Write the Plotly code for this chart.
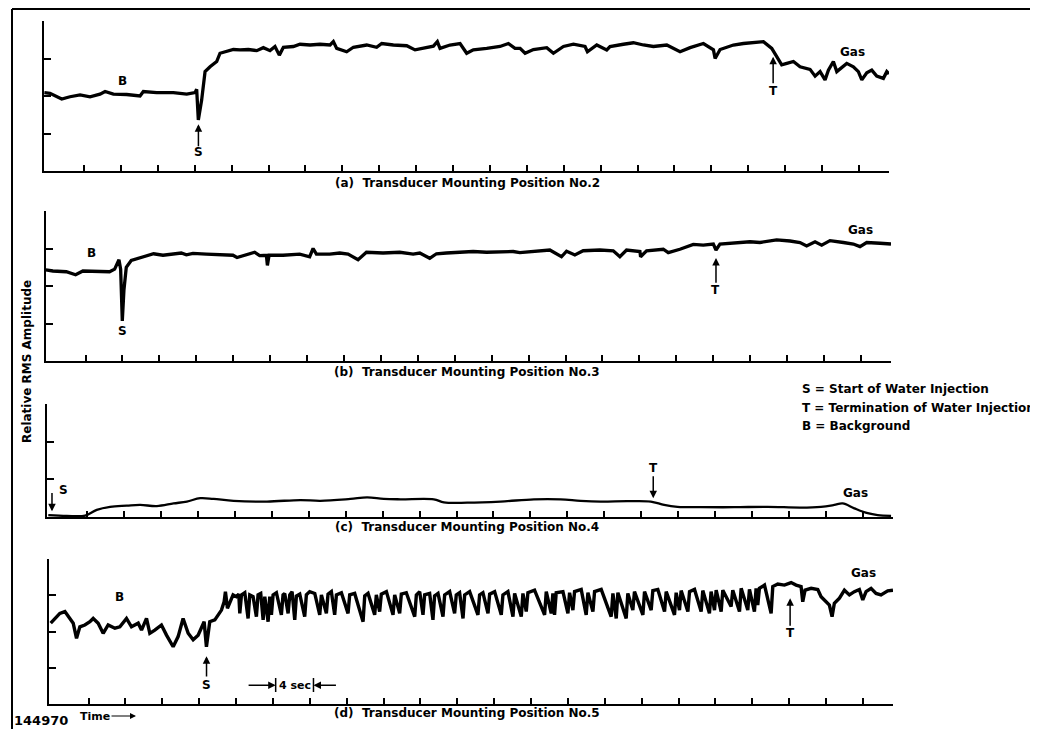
import plotly.graph_objects as go

# ---------------- data (time in s, amplitude in divisions) ----------------
t_a = [-0.3, 0.31, 1.58, 2.48, 3.57, 4.65, 5.73, 6.28, 7.18, 8.62, 10.07, 10.43, 11.88, 13.68, 15.13,
       16.03, 16.21, 16.39, 16.75, 17.12, 17.66, 18.38, 18.74, 19.47, 20.19, 20.91, 21.81, 22.72, 23.44,
       24.16, 24.70, 25.17, 25.61, 26.69, 27.41, 28.50, 29.58, 30.67, 31.03, 31.39, 32.47, 33.20, 34.64,
       35.72, 36.27, 37.53, 38.98, 39.88, 40.78, 41.87, 42.30, 42.59, 43.67, 44.76, 45.48, 46.20, 47.65,
       49.09, 50.00, 50.72, 51.27, 51.81, 52.71, 54.16, 54.88, 55.97, 57.05, 58.31, 58.57, 59.58, 60.66,
       61.02, 62.47, 63.55, 64.64, 65.72, 67.17, 68.61, 69.70, 71.14, 72.23, 72.41, 72.95, 74.39, 75.48,
       76.56, 77.65, 78.55, 79.09, 79.63, 80.18, 80.90, 81.62, 82.70, 83.25, 83.79, 84.33, 84.69, 85.23,
       85.60, 86.68, 87.40, 87.94, 88.31, 88.85, 89.39, 89.93, 90.65, 91.02, 91.26]
v_a = [2.09, 2.07, 1.92, 1.98, 2.03, 1.98, 2.05, 2.12, 2.05, 2.04, 2.00, 2.12, 2.09, 2.09, 2.05,
       2.09, 2.18, 1.36, 1.89, 2.65, 2.78, 2.92, 3.14, 3.18, 3.24, 3.23, 3.24, 3.21, 3.29,
       3.21, 3.32, 3.09, 3.30, 3.32, 3.38, 3.36, 3.38, 3.36, 3.45, 3.27, 3.18, 3.30, 3.36,
       3.30, 3.40, 3.36, 3.34, 3.23, 3.27, 3.33, 3.45, 3.27, 3.36, 3.40, 3.14, 3.23, 3.27,
       3.32, 3.40, 3.27, 3.27, 3.14, 3.24, 3.29, 3.14, 3.32, 3.38, 3.32, 3.18, 3.36, 3.23,
       3.32, 3.38, 3.42, 3.36, 3.32, 3.36, 3.18, 3.29, 3.40, 3.23, 3.00, 3.24, 3.36, 3.40,
       3.42, 3.45, 3.27, 3.05, 2.83, 2.87, 2.92, 2.78, 2.71, 2.53, 2.65, 2.43, 2.69, 2.92,
       2.65, 2.87, 2.78, 2.65, 2.43, 2.62, 2.69, 2.53, 2.47, 2.65, 2.59]

t_b = [-0.3, 0.46, 1.91, 2.92, 3.71, 5.16, 6.60, 7.15, 7.62, 7.80, 7.98, 8.16, 8.41, 8.95, 9.86,
       11.37, 12.39, 13.47, 14.37, 14.92, 15.64, 17.08, 18.53, 19.97, 20.41, 21.42, 22.32, 22.86,
       23.59, 23.70, 23.88, 25.39, 27.20, 28.28, 28.65, 29.01, 30.45, 31.54, 32.44, 33.52, 34.43,
       36.23, 38.04, 39.49, 40.21, 41.29, 42.02, 43.10, 44.55, 45.99, 47.44, 48.88, 50.33, 51.05,
       52.49, 54.30, 55.56, 56.11, 57.01, 57.91, 59.72, 61.17, 61.89, 62.61, 64.06, 64.13, 64.78,
       66.59, 67.13, 68.39, 69.84, 70.92, 72.01, 72.30, 72.73, 74.17, 75.98, 77.06, 78.87, 80.32,
       81.40, 82.12, 83.03, 83.75, 84.65, 86.10, 87.18, 87.90, 88.63, 90.07, 91.26]
v_b = [2.43, 2.40, 2.38, 2.30, 2.40, 2.40, 2.38, 2.45, 2.70, 2.45, 1.07, 1.90, 2.50, 2.68, 2.75,
       2.86, 2.82, 2.85, 2.88, 2.83, 2.87, 2.85, 2.83, 2.82, 2.76, 2.84, 2.90, 2.81,
       2.82, 2.55, 2.82, 2.82, 2.85, 2.78, 3.00, 2.85, 2.85, 2.88, 2.85, 2.70, 2.90,
       2.88, 2.90, 2.85, 2.88, 2.74, 2.86, 2.88, 2.90, 2.92, 2.90, 2.90, 2.92, 2.89,
       2.92, 2.96, 2.78, 2.93, 2.83, 2.94, 2.96, 2.94, 2.78, 2.96, 2.92, 2.78, 2.94,
       2.98, 2.89, 2.98, 3.11, 3.09, 3.12, 2.96, 3.12, 3.14, 3.18, 3.16, 3.23, 3.20,
       3.16, 3.07, 3.18, 3.09, 3.21, 3.16, 3.12, 3.05, 3.16, 3.14, 3.12]

t_c = [-0.2, 1.80, 3.78, 5.05, 6.49, 8.30, 9.75, 11.55, 13.36, 14.81, 16.25, 17.70, 19.86, 23.48,
       27.09, 29.26, 32.51, 34.32, 36.12, 37.93, 41.54, 42.63, 45.16, 48.77, 52.38, 55.27, 57.44,
       59.61, 62.50, 65.03, 66.48, 67.92, 70.45, 74.06, 77.68, 81.29, 83.46, 84.90, 85.81, 87.07,
       88.52, 89.60, 91.05]
v_c = [0.05, 0.03, 0.035, 0.19, 0.27, 0.30, 0.32, 0.29, 0.36, 0.41, 0.50, 0.48, 0.43, 0.41,
       0.45, 0.43, 0.48, 0.52, 0.48, 0.47, 0.47, 0.39, 0.38, 0.41, 0.47, 0.47, 0.43,
       0.41, 0.42, 0.41, 0.32, 0.27, 0.26, 0.26, 0.27, 0.25, 0.27, 0.32, 0.36, 0.23,
       0.10, 0.05, 0.03]

t_d = [-0.1, 0.35, 0.89, 1.44, 1.98, 2.34, 2.70, 3.06, 3.60, 4.15, 4.51, 5.05, 5.59, 6.13, 6.86,
       7.40, 8.12, 8.66, 9.39, 9.75, 10.29, 10.65, 11.19, 11.91, 12.46, 13.18, 13.72, 14.26, 14.81,
       15.35, 15.89, 16.25, 16.54, 16.79, 17.15, 17.70, 18.06, 18.42, 18.71, 18.85, 19.07, 19.43,
       19.68, 20.04, 20.30, 20.41, 20.59, 20.95, 21.31, 21.49, 21.85, 22.21, 22.39, 22.68, 22.94,
       23.12, 23.48, 23.66, 23.84, 24.02, 24.38, 24.92, 25.10, 25.28, 25.65, 25.83, 26.08, 26.37,
       26.55, 26.91, 27.45, 27.63, 27.99, 28.54, 29.08, 29.26, 29.80, 29.98, 30.34, 30.70, 30.89,
       31.43, 32.15, 32.33, 32.87, 33.78, 33.96, 34.32, 35.04, 35.22, 35.58, 35.76, 36.31, 37.03,
       37.21, 37.75, 37.93, 38.47, 39.38, 39.56, 39.92, 40.28, 40.46, 41.00, 41.36, 41.54, 41.91,
       42.45, 42.63, 43.17, 43.71, 43.89, 44.25, 44.62, 44.80, 45.34, 46.24, 46.42, 46.78, 47.33,
       47.51, 48.05, 48.77, 48.95, 49.49, 50.04, 50.22, 50.94, 51.12, 51.48, 51.66, 52.38, 53.47,
       53.65, 54.19, 54.37, 54.55, 54.73, 55.46, 56.00, 56.18, 56.54, 56.72, 57.44, 57.98, 58.17,
       58.71, 58.89, 59.61, 60.69, 60.88, 61.24, 61.42, 62.32, 62.50, 63.04, 63.22, 64.13, 64.31,
       65.03, 65.21, 65.75, 66.48, 66.66, 67.56, 67.74, 68.10, 68.28, 69.01, 69.19, 69.73, 70.45,
       70.63, 71.35, 71.53, 71.90, 72.08, 72.62, 72.80, 73.70, 73.88, 74.61, 74.79, 75.51, 75.69,
       76.23, 76.41, 76.59, 76.77, 77.32, 78.04, 78.22, 78.76, 79.48, 80.21, 80.75, 81.29, 81.47,
       81.72, 82.38, 83.10, 83.46, 84.00, 84.36, 84.65, 84.90, 85.45, 85.99, 86.53, 87.07, 87.61,
       87.98, 88.34, 88.88, 89.42, 89.96, 90.69, 91.26]
v_d = [2.23, 2.36, 2.50, 2.55, 2.36, 2.23, 1.81, 2.13, 2.18, 2.27, 2.36, 2.23, 1.95, 2.18, 2.09,
       2.13, 2.36, 2.13, 2.23, 2.04, 2.36, 1.95, 2.04, 2.18, 1.90, 1.58, 1.86, 2.36, 1.95,
       1.77, 1.90, 2.13, 2.27, 1.58, 2.27, 2.32, 2.45, 2.59, 2.82, 3.10, 2.64, 2.87,
       3.01, 2.96, 3.03, 2.50, 3.01, 3.07, 2.36, 3.01, 2.96, 2.41, 3.01, 3.05, 2.32,
       2.96, 2.27, 2.96, 2.46, 3.01, 3.07, 2.46, 3.01, 3.05, 2.50, 3.01, 3.10, 2.32,
       2.98, 3.03, 2.41, 3.01, 3.10, 3.05, 2.46, 3.01, 2.50, 3.03, 3.10, 2.46, 3.01,
       3.07, 2.50, 3.01, 3.05, 2.27, 2.98, 3.05, 2.46, 3.01, 2.55, 3.03, 3.10, 2.46,
       3.01, 2.50, 3.03, 3.07, 2.41, 3.01, 3.10, 2.46, 3.01, 3.05, 2.32, 2.98, 3.05,
       2.41, 3.01, 3.10, 2.50, 3.01, 3.07, 2.36, 3.01, 3.10, 2.46, 3.01, 3.07, 2.50,
       3.03, 3.10, 2.46, 3.01, 3.10, 2.41, 3.05, 2.41, 3.05, 2.55, 3.07, 3.14, 2.46,
       3.10, 2.50, 3.05, 2.46, 3.07, 3.10, 2.50, 3.07, 2.59, 3.10, 3.16, 2.46, 3.07,
       2.55, 3.10, 3.16, 2.41, 3.05, 2.36, 3.07, 2.36, 3.05, 2.59, 3.10, 2.46, 3.10,
       2.59, 3.13, 3.16, 2.55, 3.10, 2.46, 3.07, 2.59, 3.13, 2.55, 3.10, 3.16, 2.55,
       3.13, 2.50, 3.10, 2.59, 3.14, 2.55, 3.14, 2.69, 3.14, 2.55, 3.19, 2.59, 3.16,
       2.55, 3.19, 2.73, 3.19, 3.28, 2.50, 3.24, 3.31, 3.28, 3.35, 3.28, 3.24, 2.82,
       3.14, 3.19, 3.16, 2.96, 2.82, 2.73, 2.41, 2.78, 2.92, 3.14, 3.01, 3.10, 3.16,
       2.87, 3.10, 3.19, 3.05, 3.01, 3.12, 3.14]

x_ticks = [4, 8, 12, 16, 20, 24, 28, 32, 36, 40, 44, 48, 52, 56, 60, 64, 68, 72, 76, 80, 84, 88, 91.2]
captions = ["(a)  Transducer Mounting Position No.2", "(b)  Transducer Mounting Position No.3",
            "(c)  Transducer Mounting Position No.4", "(d)  Transducer Mounting Position No.5"]
legend_lines = ["S = Start of Water Injection", "T = Termination of Water Injection", "B = Background"]

# ---------------- layout ----------------
OFF = 8                      # page body margin of the browser
W, H = 1038 - OFF, 729 - OFF
X_RANGE = [-0.34, 91.26]
FONT = "DejaVu Sans"

def px(x):
    return (x - OFF) / W

def py(y):
    return 1 - (y - OFF) / H

def fnt(size):
    return dict(size=size, family=FONT, color="black", weight="bold")

panels = [
    dict(t=t_a, v=v_a, ymax=4, x0=44, x1=889, y0=171, y1=21, w=3.3, shape="linear"),
    dict(t=t_b, v=v_b, ymax=4, x0=45.5, x1=891, y0=361, y1=211, w=3.3, shape="linear"),
    dict(t=t_c, v=v_c, ymax=3, x0=47, x1=893, y0=517, y1=404, w=2.3, shape="spline"),
    dict(t=t_d, v=v_d, ymax=4, x0=48.5, x1=893, y0=704, y1=559, w=3.4, shape="linear"),
]

fig = go.Figure()
layout = dict(width=W, height=H, margin=dict(l=0, r=0, t=0, b=0),
              paper_bgcolor="white", plot_bgcolor="white", showlegend=False,
              font=dict(family=FONT, color="black", size=12))

for i, p in enumerate(panels):
    n = "" if i == 0 else str(i + 1)
    fig.add_trace(go.Scatter(x=p["t"], y=p["v"], mode="lines",
                             line=dict(color="black", width=p["w"], shape=p["shape"]),
                             xaxis="x" + n, yaxis="y" + n, hoverinfo="skip"))
    layout["xaxis" + n] = dict(domain=[px(p["x0"]), px(p["x1"])], range=X_RANGE, anchor="y" + n,
                               showline=True, linecolor="black", linewidth=2, ticks="inside",
                               ticklen=6, tickwidth=2, tickcolor="black", tickvals=x_ticks,
                               showticklabels=False, showgrid=False, zeroline=False, fixedrange=True)
    layout["yaxis" + n] = dict(domain=[py(p["y0"]), py(p["y1"])], range=[0, p["ymax"]], anchor="x" + n,
                               showline=True, linecolor="black", linewidth=2, ticks="inside",
                               ticklen=7, tickwidth=2, tickcolor="black",
                               tickvals=list(range(p["ymax"] + 1)),
                               showticklabels=False, showgrid=False, zeroline=False, fixedrange=True)

fig.update_layout(**layout)

ann = []

def label(text, t, v, k, size=12):
    n = "" if k == 0 else str(k + 1)
    ann.append(dict(text=text, x=t, y=v, xref="x" + n, yref="y" + n, showarrow=False,
                    xanchor="center", yanchor="middle", font=fnt(size)))

def arrow(t_tail, v_tail, t_head, v_head, k):
    n = "" if k == 0 else str(k + 1)
    ann.append(dict(text="", x=t_head, y=v_head, ax=t_tail, ay=v_tail, xref="x" + n, yref="y" + n,
                    axref="x" + n, ayref="y" + n, showarrow=True, arrowhead=2, arrowsize=1,
                    arrowwidth=1.5, arrowcolor="black"))

def paper_text(text, x, y, size=12, xanchor="center", angle=0):
    ann.append(dict(text=text, x=px(x), y=py(y), xref="paper", yref="paper", showarrow=False,
                    xanchor=xanchor, yanchor="middle", textangle=angle, font=fnt(size)))

# panel (a)
label("B", 8.2, 2.4, 0)
label("S", 16.4, 0.5, 0)
arrow(16.4, 0.62, 16.4, 1.25, 0)
label("T", 78.7, 2.14, 0)
arrow(78.7, 2.3, 78.7, 3.05, 0)
label("Gas", 87.3, 3.17, 0)
# panel (b)
label("B", 4.65, 2.88, 1)
label("S", 8.0, 0.8, 1)
label("T", 72.3, 1.89, 1)
arrow(72.3, 2.05, 72.3, 2.75, 1)
label("Gas", 88.0, 3.49, 1)
# panel (c)
label("S", 1.4, 0.72, 2)
arrow(0.2, 0.68, 0.2, 0.15, 2)
label("T", 65.3, 1.30, 2)
arrow(65.3, 1.12, 65.3, 0.5, 2)
label("Gas", 87.2, 0.64, 2)
# panel (d)
label("B", 7.4, 2.95, 3)
label("S", 16.8, 0.52, 3)
arrow(16.8, 0.72, 16.8, 1.32, 3)
label("T", 80.1, 1.96, 3)
arrow(80.1, 2.12, 80.1, 2.92, 3)
label("Gas", 88.1, 3.61, 3)
label("4 sec", 26.35, 0.52, 3, size=11)
arrow(21.2, 0.52, 24.3, 0.52, 3)
arrow(31.0, 0.52, 28.4, 0.52, 3)

# captions
for c, y in zip(captions, [183, 372, 527, 713]):
    paper_text(c, 467, y, size=12)

# legend block
for s, y in zip(legend_lines, [389, 408, 426]):
    paper_text(s, 800, y, size=12, xanchor="left")

paper_text("Relative RMS Amplitude", 27, 362, size=12, angle=-90)
paper_text("144970", 12, 720, size=13, xanchor="left")
paper_text("Time", 78, 716, size=11, xanchor="left")
ann.append(dict(text="", x=px(136), y=py(716), ax=-26, ay=0, xref="paper", yref="paper",
                showarrow=True, arrowhead=2, arrowwidth=1.2, arrowcolor="black"))

fig.update_layout(annotations=ann)

shapes = [
    dict(type="line", xref="paper", yref="paper", x0=px(12), x1=1, y0=py(9), y1=py(9),
         line=dict(color="black", width=2)),
    dict(type="line", xref="paper", yref="paper", x0=px(12), x1=px(12), y0=py(9), y1=0,
         line=dict(color="black", width=2)),
]
# 4-sec bracket bars
for tb in [24.3, 28.4]:
    shapes.append(dict(type="line", xref="x4", yref="y4", x0=tb, x1=tb, y0=0.33, y1=0.72,
                       line=dict(color="black", width=1.5)))
fig.update_layout(shapes=shapes)

fig.write_html("out.html")
